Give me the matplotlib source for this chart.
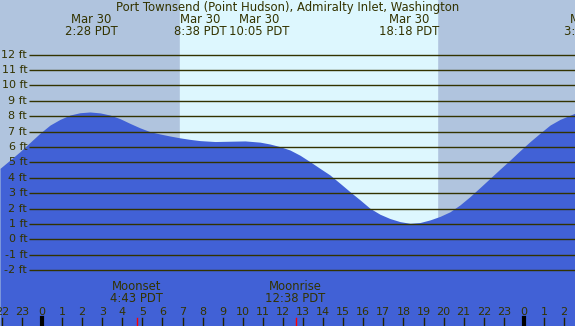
import matplotlib
matplotlib.use("Agg")
import matplotlib.pyplot as plt

# tide curve: hours from Mar 30 00:00 (PDT), height in ft
times = [-2.09, -1.59, -1.10, -0.60, -0.10, 0.40, 0.90, 1.39, 1.89, 2.39,
         2.89, 3.39, 3.88, 4.38, 4.88, 5.38, 5.88, 6.37, 6.87, 7.37,
         7.87, 8.62, 9.36, 10.11, 10.86, 11.35, 11.85, 12.35, 12.85, 13.35,
         13.84, 14.34, 14.84, 15.34, 15.84, 16.33, 16.83, 17.33, 17.83, 18.33,
         18.82, 19.32, 19.82, 20.32, 20.82, 21.31, 21.81, 22.31, 22.81, 23.31,
         23.80, 24.30, 24.80, 25.30, 25.80, 26.54]
heights = [4.62, 5.16, 5.70, 6.30, 6.90, 7.43, 7.80, 8.08, 8.23, 8.28,
           8.22, 8.08, 7.85, 7.54, 7.25, 7.00, 6.85, 6.72, 6.60, 6.50,
           6.42, 6.36, 6.38, 6.40, 6.32, 6.20, 6.03, 5.81, 5.47, 5.05,
           4.62, 4.19, 3.65, 3.10, 2.57, 2.03, 1.64, 1.36, 1.16, 1.05,
           1.10, 1.27, 1.50, 1.80, 2.25, 2.78, 3.37, 3.97, 4.57, 5.16,
           5.76, 6.35, 6.90, 7.43, 7.80, 8.20]

levels = list(range(-2, 13))
level_labels = [f"{v} ft" for v in levels]

sunrise, sunset = 6.87, 19.67

event_dates = ["Mar 30", "Mar 30", "Mar 30", "Mar 30", "Mar 31"]
event_times = ["2:28 PDT", "8:38 PDT", "10:05 PDT", "18:18 PDT", "3:18 PDT"]
event_hours = [2.47, 7.87, 10.80, 18.30, 27.30]  # label positions (spread to avoid overlap)

moon_names = ["Moonset", "Moonrise"]
moon_times = ["4:43 PDT", "12:38 PDT"]
moon_hours = [4.72, 12.63]

hour_ticks = list(range(-2, 27))
hour_labels = [str(h % 24) for h in hour_ticks]
midnights = [0, 24]

title = "Port Townsend (Point Hudson), Admiralty Inlet, Washington"

night_c = "#b0c4de"
day_c = "#ddf7fe"
water_c = "#4161d6"
ink = "#333300"
fs = 8.4

fig = plt.figure(figsize=(5.75, 3.26), dpi=100)
ax = fig.add_axes([0, 0, 1, 1])
ax.set_xlim(-2.092, 26.544)
ax.set_ylim(-5.617, 15.55)
ax.axis("off")

ax.axvspan(-5, 30, color=night_c, zorder=0)
ax.axvspan(sunrise, sunset, color=day_c, zorder=1)
ax.fill_between(times, heights, -10, color=water_c, lw=0, zorder=2)

ax.hlines(levels, -0.65, 27, color=ink, lw=1.0, zorder=3)
for v, lab in zip(levels, level_labels):
    ax.text(-0.74, v, lab, ha="right", va="center", fontsize=8, color=ink, zorder=4)

ax.text(0.5, 1 - 7 / 326, title, transform=ax.transAxes, ha="center", va="center",
        fontsize=fs, color=ink)
for d, t, h in zip(event_dates, event_times, event_hours):
    ax.text(h, 15.55 - 19 / 15.4, d, ha="center", va="center", fontsize=fs, color=ink)
    ax.text(h, 15.55 - 31 / 15.4, t, ha="center", va="center", fontsize=fs, color=ink)

for n, t, h in zip(moon_names, moon_times, moon_hours):
    ax.text(h, -5.617 + 39 / 15.4, n, ha="center", va="center", fontsize=fs, color=ink)
    ax.text(h, -5.617 + 27 / 15.4, t, ha="center", va="center", fontsize=fs, color=ink)
    ax.axvline(h, 0, 8 / 326, color="red", lw=1.0, zorder=5)

for h, lab in zip(hour_ticks, hour_labels):
    ax.text(h, -5.617 + 14 / 15.4, lab, ha="center", va="center", fontsize=8, color=ink)
    if h in midnights:
        ax.axvline(h, 0, 8 / 326, color="black", lw=3.0, zorder=5)
    else:
        ax.axvline(h, 0, 8 / 326, color="#222200", lw=1.0, zorder=5)

fig.savefig("out.png", dpi=100)
